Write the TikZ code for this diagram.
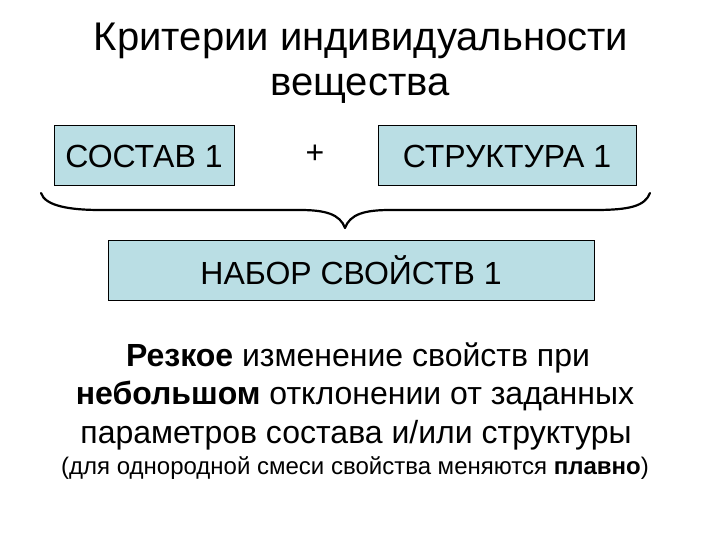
\documentclass[tikz,border=0pt]{standalone}
\usepackage{fontspec}
\setmainfont{Liberation Sans}
\begin{document}
\begin{tikzpicture}[x=1pt,y=-1pt,
  box/.style={draw=black,line width=1pt,fill=boxfill,inner sep=0pt},
  txt/.style={anchor=base,inner sep=0pt}]
\definecolor{boxfill}{RGB}{186,222,228}
\useasboundingbox (0,0) rectangle (720,540);
% title
\node[txt,font=\fontsize{40}{46}\selectfont] (t1) at (361,51) {Критерии индивидуальности};
\node[txt,font=\fontsize{40}{46}\selectfont] (t2) at (360,96) {вещества};
% boxes
\node[box,minimum width=180pt,minimum height=60pt,font=\fontsize{32}{38}\selectfont] (sost) at (144,156) {СОСТАВ 1};
\node[txt,font=\fontsize{32}{38}\selectfont] (plus) at (315,164) {+};
\node[box,minimum width=258pt,minimum height=60pt,font=\fontsize{32}{38}\selectfont] (str) at (507,156) {СТРУКТУРА 1};
\node[box,minimum width=486pt,minimum height=60pt,font=\fontsize{32}{38}\selectfont] (nab) at (351,270) {НАБОР СВОЙСТВ 1};
% brace
\coordinate (bl) at (41,193);
\coordinate (br) at (650,193);
\coordinate (tip) at (345,228);
\draw[line width=2.2pt,line cap=round,line join=round]
  (bl) .. controls (45,206) and (70,210) .. (100,210) -- (300,210)
  .. controls (325,210) and (340,214) .. (tip)
  .. controls (350,214) and (365,210) .. (390,210) -- (595,210)
  .. controls (630,210) and (645,206) .. (br);
% body
\node[txt,font=\fontsize{32}{38}\selectfont] (b1) at (358,366) {\textbf{Резкое} изменение свойств при};
\node[txt,font=\fontsize{32}{38}\selectfont] (b2) at (355,404) {\textbf{небольшом} отклонении от заданных};
\node[txt,font=\fontsize{32}{38}\selectfont] (b3) at (356,443) {параметров состава и/или структуры};
\node[txt,font=\fontsize{24}{28}\selectfont] (b4) at (355,474) {(для однородной смеси свойства меняются \textbf{плавно})};
\end{tikzpicture}
\end{document}
